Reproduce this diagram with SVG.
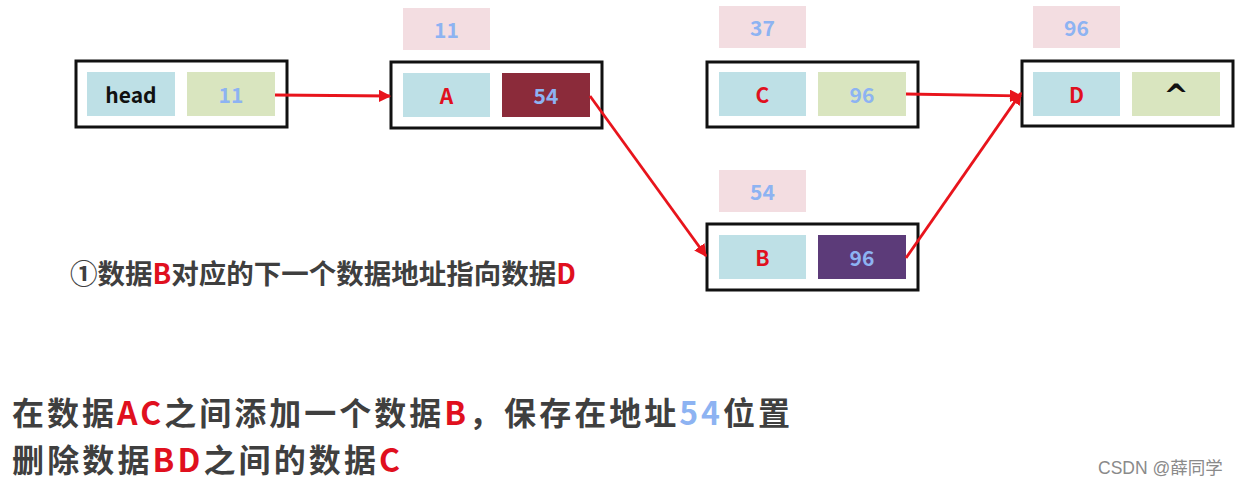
<svg xmlns="http://www.w3.org/2000/svg" width="1245" height="487" viewBox="0 0 1245 487">
<style>
.outer{fill:#fff;stroke:#111;stroke-width:3}
.cb{fill:#BEE0E6}
.cg{fill:#D9E5BF}
.lab{fill:#F3DDE1}
.t{font-family:"Noto Sans CJK SC","Liberation Sans",sans-serif;font-weight:700;font-size:21px;text-anchor:middle;dominant-baseline:central}
.tb{fill:#8DB3F2}
.tr{fill:#E0101E}
.tk{fill:#111}
.conn{stroke:#E8141C;stroke-width:2.8;fill:none;marker-end:url(#ah)}
.cap{font-family:"Noto Sans CJK SC","Liberation Sans",sans-serif;font-weight:700;fill:#3F3F3F}
.r{fill:#E0101E}
.bl{fill:#8DB3F2}
</style>
<defs>
<marker id="ah" viewBox="0 0 10 10" refX="9" refY="5" markerWidth="4.5" markerHeight="4.5" orient="auto" markerUnits="strokeWidth">
<path d="M0,0 L10,5 L0,10 z" fill="#E8141C"/>
</marker>
</defs>
<rect width="1245" height="487" fill="#fff"/>

<g id="node-head">
<rect class="outer" x="76" y="61" width="211" height="66"/>
<rect class="cb" x="87" y="72" width="88" height="44"/>
<rect class="cg" x="187" y="72" width="88" height="44"/>
<text class="t tk" x="131" y="94">head</text>
<text class="t tb" x="231" y="94">11</text>
</g>

<g id="node-A">
<rect class="lab" x="403" y="8" width="87" height="42"/>
<text class="t tb" x="446.5" y="29">11</text>
<rect class="outer" x="391" y="62" width="211" height="66"/>
<rect class="cb" x="403" y="73" width="87" height="44"/>
<rect fill="#8B2B3A" x="502" y="73" width="88" height="44"/>
<text class="t tr" x="446.5" y="95">A</text>
<text class="t tb" x="546" y="95">54</text>
</g>

<g id="node-C">
<rect class="lab" x="719" y="6" width="87" height="42"/>
<text class="t tb" x="762.5" y="27">37</text>
<rect class="outer" x="707" y="62" width="211" height="65"/>
<rect class="cb" x="719" y="72" width="87" height="44"/>
<rect class="cg" x="818" y="72" width="88" height="44"/>
<text class="t tr" x="762.5" y="94">C</text>
<text class="t tb" x="862" y="94">96</text>
</g>

<g id="node-D">
<rect class="lab" x="1033" y="6" width="87" height="42"/>
<text class="t tb" x="1076.5" y="27">96</text>
<rect class="outer" x="1022" y="61" width="211" height="65"/>
<rect class="cb" x="1033" y="72" width="87" height="44"/>
<rect class="cg" x="1132" y="72" width="88" height="44"/>
<text class="t tr" x="1076.5" y="94">D</text>
<text x="1176" y="106" font-family="'DejaVu Sans',sans-serif" font-weight="700" font-size="30" text-anchor="middle" fill="#111">^</text>
</g>

<g id="node-B">
<rect class="lab" x="719" y="170" width="87" height="42"/>
<text class="t tb" x="762.5" y="191">54</text>
<rect class="outer" x="707" y="224" width="211" height="66"/>
<rect class="cb" x="719" y="235" width="87" height="44"/>
<rect fill="#5C3B79" x="818" y="235" width="88" height="44"/>
<text class="t tr" x="762.5" y="257">B</text>
<text class="t tb" x="862" y="257">96</text>
</g>

<g id="connectors">
<line class="conn" x1="275" y1="95" x2="390" y2="96"/>
<line class="conn" x1="906" y1="94" x2="1021" y2="96"/>
<line class="conn" x1="590" y1="96" x2="706" y2="256"/>
<line class="conn" x1="906" y1="258" x2="1021" y2="93"/>
</g>

<text class="cap" x="70" y="284" font-size="27.5">①数据<tspan class="r">B</tspan>对应的下一个数据地址指向数据<tspan class="r">D</tspan></text>
<text class="cap" x="12" y="425" font-size="32" textLength="778" lengthAdjust="spacing">在数据<tspan class="r">AC</tspan>之间添加一个数据<tspan class="r">B</tspan>，保存在地址<tspan class="bl">54</tspan>位置</text>
<text class="cap" x="12" y="472" font-size="32" textLength="388" lengthAdjust="spacing">删除数据<tspan class="r">BD</tspan>之间的数据<tspan class="r">C</tspan></text>
<text x="1098" y="474" font-family="'Liberation Sans','Noto Sans CJK SC',sans-serif" font-size="17.5" fill="#8A8A8A">CSDN @薛同学</text>
</svg>
